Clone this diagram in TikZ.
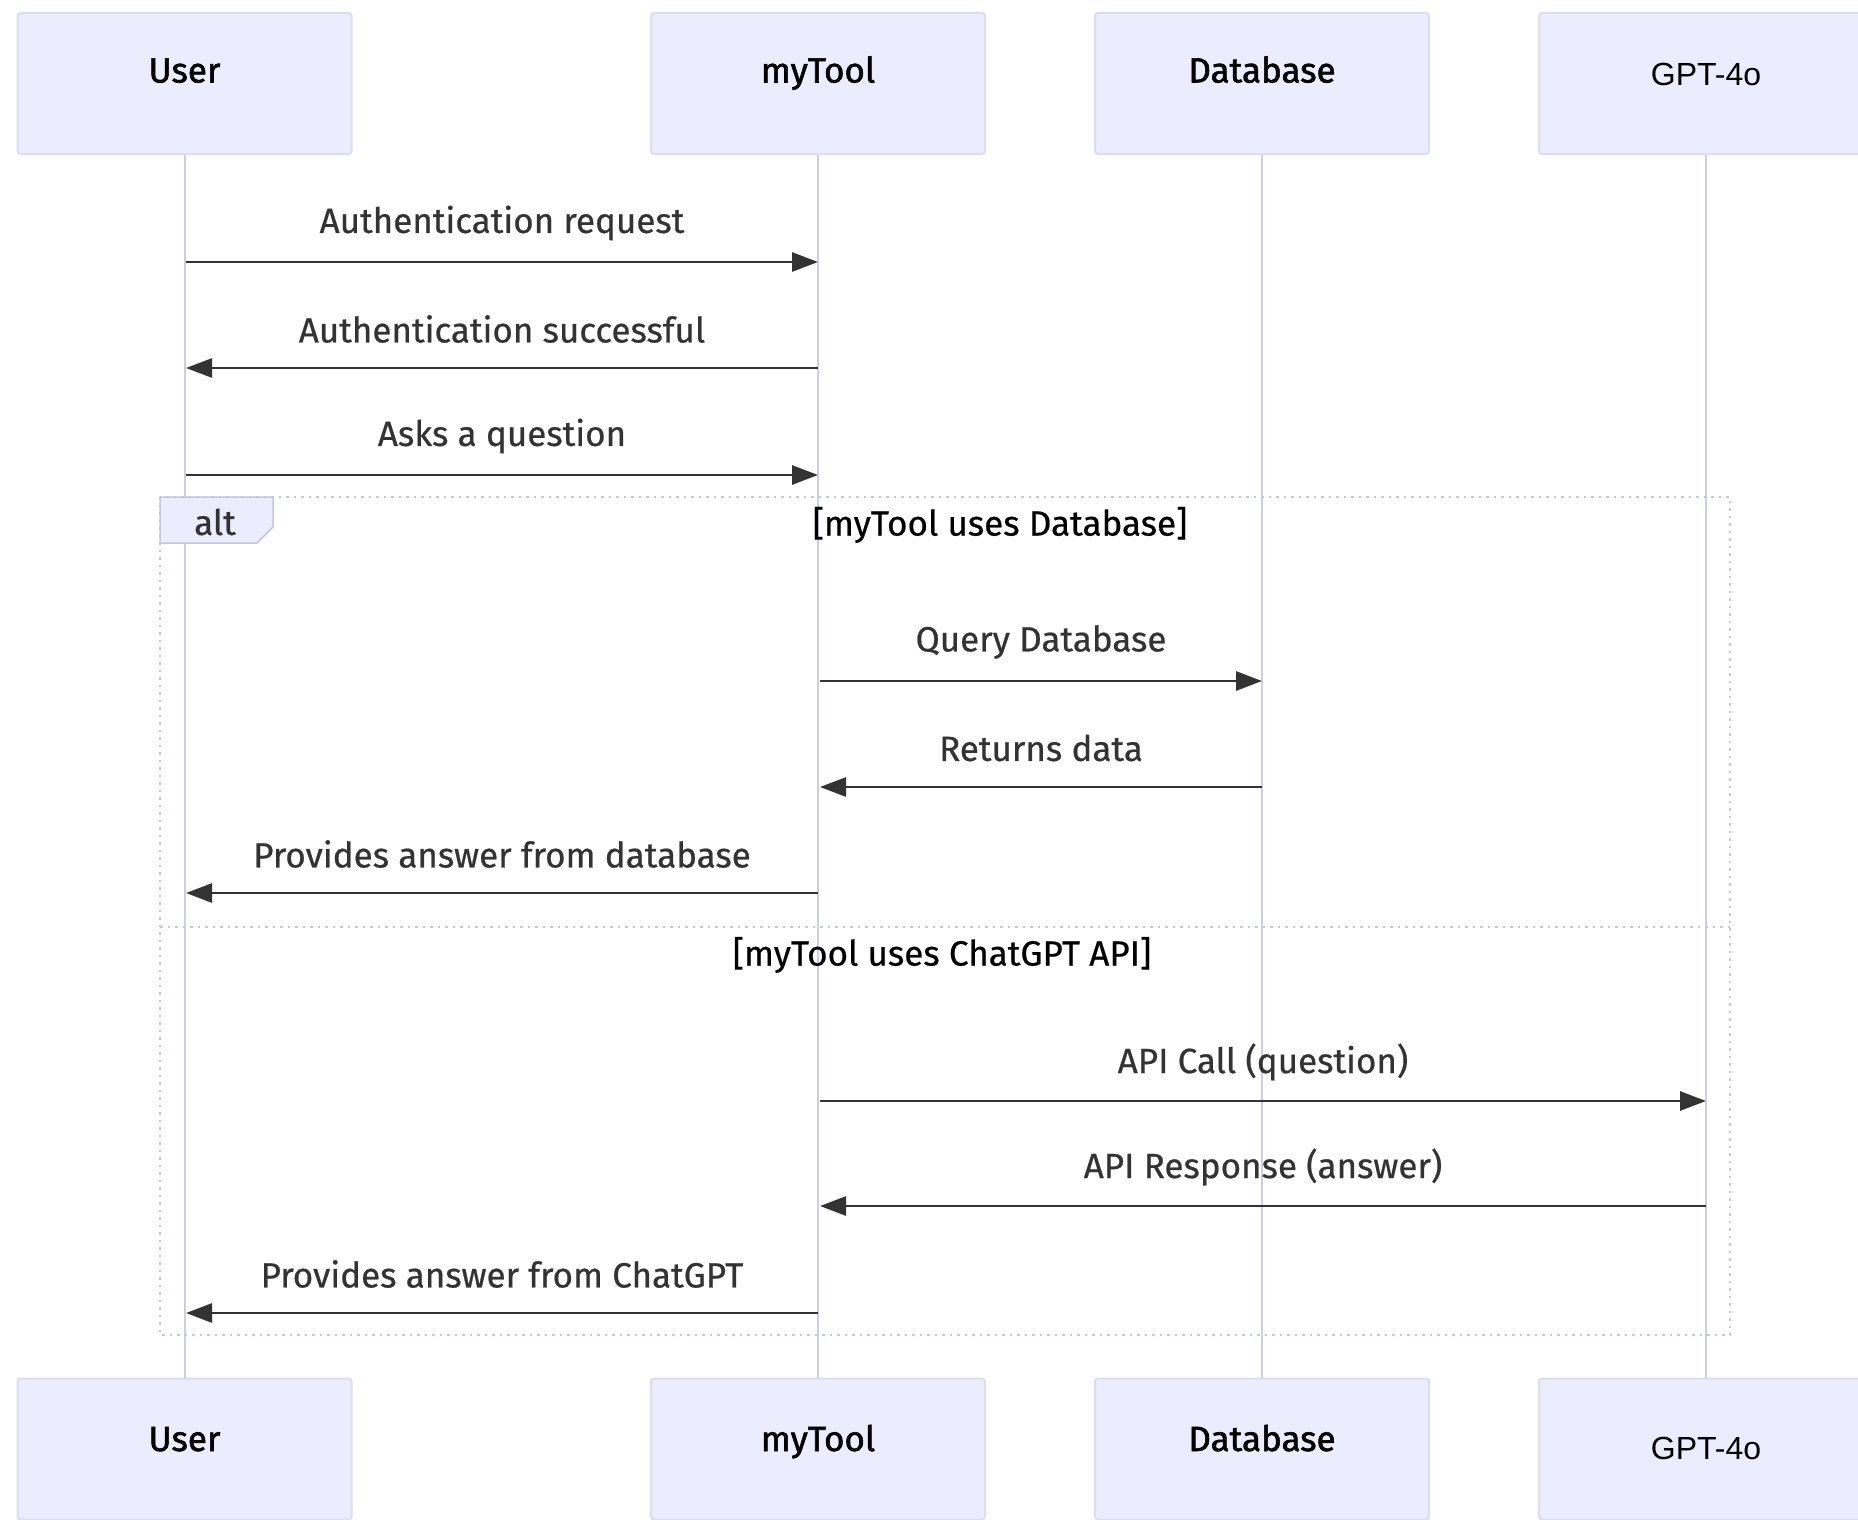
\documentclass[tikz,border=0pt]{standalone}
\usepackage{fontspec}
\setmainfont{Fira Sans}[FakeBold=0.6]
\newfontfamily\namefont{Fira Sans}[FakeBold=1.6]
\newfontfamily\gptfont{Liberation Sans}
\usepackage{xcolor}
\usetikzlibrary{arrows.meta,positioning}
\definecolor{actorfill}{HTML}{ECECFF}
\definecolor{actorline}{HTML}{DDDDF0}
\definecolor{lifecol}{HTML}{CDCDE6}
\definecolor{msgcol}{HTML}{333333}
\definecolor{framecol}{HTML}{C6C6DC}

\begin{document}
\begin{tikzpicture}[x=1pt,y=-1pt,
		actor/.style={draw=actorline,line width=2pt,fill=actorfill,rounded corners=3pt,
			minimum width=334pt,minimum height=141pt,inner sep=0pt,
			font=\namefont\fontsize{35}{40}\selectfont,text height=20pt,text depth=22pt},
		gptactor/.style={actor,font=\gptfont\fontsize{32}{38}\selectfont,text depth=16pt},
		life/.style={draw=lifecol,line width=2pt},
		msg/.style={draw=msgcol,line width=2.8pt,-{Triangle[length=26pt,width=19pt]}},
		msglabel/.style={font=\fontsize{35}{40}\selectfont,text=msgcol,yshift=39pt},
		frame/.style={draw=framecol,line width=2.5pt,dash pattern=on 2.5pt off 5pt}]
	\useasboundingbox (0,0) rectangle (1858,1520);
	% participants
	\node[actor] (userT) at (184.5,83.5) {User};
	\node[actor] (toolT) at (818,83.5) {myTool};
	\node[actor] (dbT) at (1262,83.5) {Database};
	\node[gptactor] (gptT) at (1706,83.5) {GPT-4o};
	\node[actor,text depth=16pt] (userB) at (184.5,1449) {User};
	\node[actor,text depth=16pt] (toolB) at (818,1449) {myTool};
	\node[actor,text depth=16pt] (dbB) at (1262,1449) {Database};
	\node[gptactor,text depth=-8pt] (gptB) at (1706,1449) {GPT-4o};
	% lifelines
	\draw[life] (userT) -- (userB);
	\draw[life] (toolT) -- (toolB);
	\draw[life] (dbT) -- (dbB);
	\draw[life] (gptT) -- (gptB);
	% alt frame
	\draw[frame] (160,497) rectangle (1730,1335);
	\draw[draw=framecol,line width=1.5pt,fill=actorfill] (160,497) -- (273,497) -- (273,527) -- (257,543) -- (160,543) -- cycle;
	\node[font=\fontsize{35}{40}\selectfont,text=msgcol] (alt) at (215,522) {alt};
	\node[font=\fontsize{35}{40}\selectfont,text=black] (cond1) at (1000,525) {[myTool uses Database]};
	\draw[frame] (160,927) -- (1730,927);
	\node[font=\fontsize{35}{40}\selectfont,text=black] (cond2) at (942,955) {[myTool uses ChatGPT API]};
	% message end points
	\coordinate (u1) at (186,262);   \coordinate (t1) at (818,262);
	\coordinate (t2) at (818,368);   \coordinate (u2) at (186,368);
	\coordinate (u3) at (186,475);   \coordinate (t3) at (818,475);
	\coordinate (t4) at (820,681);   \coordinate (d4) at (1262,681);
	\coordinate (d5) at (1262,787);  \coordinate (t5) at (820,787);
	\coordinate (t6) at (818,893);   \coordinate (u6) at (186,893);
	\coordinate (t7) at (820,1101);  \coordinate (g7) at (1706,1101);
	\coordinate (g8) at (1706,1206); \coordinate (t8) at (820,1206);
	\coordinate (t9) at (818,1313);  \coordinate (u9) at (186,1313);
	% messages
	\draw[msg] (u1) -- (t1) node[msglabel,midway] {Authentication request};
	\draw[msg] (t2) -- (u2) node[msglabel,midway] {Authentication successful};
	\draw[msg] (u3) -- (t3) node[msglabel,midway] {Asks a question};
	\draw[msg] (t4) -- (d4) node[msglabel,midway] {Query Database};
	\draw[msg] (d5) -- (t5) node[msglabel,midway] {Returns data};
	\draw[msg] (t6) -- (u6) node[msglabel,midway] {Provides answer from database};
	\draw[msg] (t7) -- (g7) node[msglabel,midway] {API Call (question)};
	\draw[msg] (g8) -- (t8) node[msglabel,midway] {API Response (answer)};
	\draw[msg] (t9) -- (u9) node[msglabel,midway] {Provides answer from ChatGPT};
\end{tikzpicture}
\end{document}
